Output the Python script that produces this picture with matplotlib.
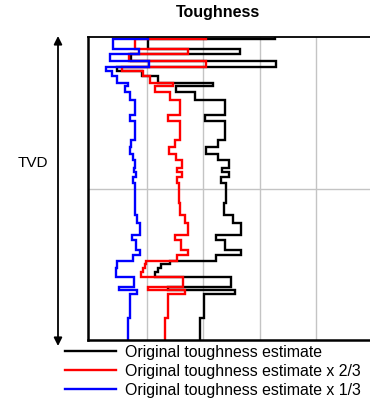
import numpy as np
import matplotlib.pyplot as plt

plt.rcParams['font.family'] = ['Liberation Sans', 'DejaVu Sans']

# depth of layer boundaries (top of log = 0)
depth_edges = [0, 1.5, 12, 17, 24, 30, 34, 39, 46, 49, 55, 63, 78, 84, 103,
               110, 117, 123, 131, 135, 140, 146, 166, 178, 186, 198, 203,
               213, 218, 224, 227, 231, 235, 240, 250, 253, 257, 281, 303]

# toughness per layer
tough_orig = [3.27, 1.02, 2.65, 0.72, 3.29, 0.47, 0.91, 1.20, 2.17, 1.52,
              1.85, 2.39, 2.03, 2.39, 2.26, 2.05, 2.26, 2.46, 2.33, 2.46,
              2.31, 2.40, 2.37, 2.53, 2.67, 2.23, 2.39, 2.67, 2.23, 1.41,
              1.25, 1.20, 1.14, 2.49, 1.37, 2.56, 2.01, 1.94]
tough_23 = [2.05, 0.79, 1.73, 0.68, 2.05, 0.56, 0.93, 1.05, 1.46, 1.14,
            1.41, 1.59, 1.37, 1.59, 1.50, 1.39, 1.52, 1.62, 1.53, 1.62,
            1.53, 1.57, 1.59, 1.67, 1.73, 1.50, 1.60, 1.73, 1.53, 0.98,
            0.96, 0.93, 0.89, 1.64, 1.02, 1.67, 1.37, 1.32]
tough_13 = [1.02, 0.40, 0.86, 0.34, 1.04, 0.27, 0.38, 0.47, 0.66, 0.61,
            0.70, 0.79, 0.70, 0.79, 0.72, 0.70, 0.75, 0.79, 0.77, 0.80,
            0.75, 0.79, 0.79, 0.82, 0.88, 0.73, 0.80, 0.88, 0.75, 0.47,
            0.47, 0.45, 0.45, 0.77, 0.50, 0.82, 0.70, 0.66]

labels = ['Original toughness estimate',
          'Original toughness estimate x 2/3',
          'Original toughness estimate x 1/3']

fig = plt.figure(figsize=(3.70, 4.04), dpi=100)
ax = fig.add_axes([88/370, 64/404, 282/370, 303/404])

for vals, col, lab in zip([tough_orig, tough_23, tough_13],
                          ['black', 'red', 'blue'], labels):
    ax.stairs(vals, depth_edges, orientation='horizontal', baseline=None,
              color=col, lw=1.7, label=lab)

ax.set_xlim(-0.05, 4.96)
ax.set_ylim(303, 0)
ax.set_xticks([1, 2, 3, 4])
ax.set_yticks([151.5])
ax.grid(True, color='#c4c4c4', lw=1)
ax.set_axisbelow(True)
ax.tick_params(length=0, labelbottom=False, labelleft=False)
ax.spines['right'].set_visible(False)
ax.spines['left'].set_linewidth(1.8)
ax.spines['bottom'].set_linewidth(1.8)
ax.spines['top'].set_linewidth(1.3)

fig.text(218/370, 1 - 12/404, 'Toughness', ha='center', va='center',
         fontsize=11.5, fontweight='bold')
fig.text(33/370, 1 - 163/404, 'TVD', ha='center', va='center', fontsize=11)

# depth arrow
ax.annotate('', xy=(58/370, 1 - 36/404), xytext=(58/370, 1 - 346/404),
            xycoords='figure fraction', textcoords='figure fraction',
            arrowprops=dict(arrowstyle='<|-|>', color='black', lw=1.3,
                            mutation_scale=12, shrinkA=0, shrinkB=0),
            annotation_clip=False)

handles, labs = ax.get_legend_handles_labels()
fig.legend(handles, labs, loc='upper left',
           bbox_to_anchor=(65/370, 1 - 345/404), frameon=False,
           fontsize=11.4, handlelength=3.2, handletextpad=0.6,
           labelspacing=0.25, borderaxespad=0, borderpad=0)

fig.savefig('out.png', dpi=100)
